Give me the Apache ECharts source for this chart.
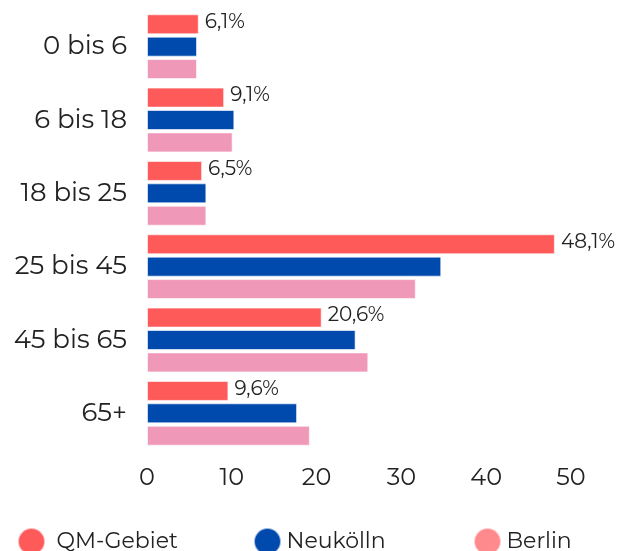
<!DOCTYPE html>
<html>
<head>
<meta charset="utf-8">
<script src="https://cdn.jsdelivr.net/npm/echarts@6/dist/echarts.min.js"></script>
<style>
  html, body { margin: 0; padding: 0; background: #fff; }
  #chart { width: 622px; height: 551px; }
</style>
</head>
<body>
<div id="chart"></div>
<script>
// Altersgruppen
var categories = ['0 bis 6', '6 bis 18', '18 bis 25', '25 bis 45', '45 bis 65', '65+']
var qmGebiet = [6.1, 9.1, 6.5, 48.1, 20.6, 9.6]
var neukoelln = [5.9, 10.3, 7.0, 34.7, 24.6, 17.7]
var berlin = [5.9, 10.1, 7.0, 31.7, 26.1, 19.2]
var seriesNames = ['QM-Gebiet', 'Neukölln', 'Berlin']
var legendColors = ['#ff5a5a', '#004aad', '#ff8a8e']

var chart = echarts.init(document.getElementById('chart'))
var font = 'Montserrat, "Open Sans", sans-serif'

// eine Legende pro Eintrag, damit die Abstände passen
var legendLeft = [12, 248, 468]
var legends = seriesNames.map(function (name, i) {
  return {
    top: 522,
    left: legendLeft[i],
    icon: 'circle',
    itemWidth: 28,
    itemHeight: 27,
    textStyle: { fontSize: 22, color: '#222', fontFamily: font, padding: [0, 0, 0, i === 0 ? 6 : 0] },
    data: [{ name: name, itemStyle: { color: legendColors[i] } }]
  }
})

var option = {
  animation: false,
  textStyle: { fontFamily: font },
  grid: { left: 147, right: 51, top: 10, bottom: 101, containLabel: false },
  legend: legends,
  xAxis: {
    type: 'value',
    min: 0,
    max: 50,
    interval: 10,
    axisLine: { show: false },
    axisTick: { show: false },
    splitLine: { show: false },
    axisLabel: { fontSize: 24, color: '#222', margin: 16 }
  },
  yAxis: {
    type: 'category',
    inverse: true,
    data: categories,
    axisLine: { show: false },
    axisTick: { show: false },
    axisLabel: { fontSize: 26, color: '#222', margin: 20 }
  },
  series: [
    {
      name: seriesNames[0],
      type: 'bar',
      data: qmGebiet,
      barWidth: 20,
      barGap: '12%',
      barCategoryGap: '14%',
      itemStyle: { color: '#ff5a5a', borderColor: 'rgba(255,255,255,0.6)', borderWidth: 1 },
      label: {
        show: true,
        position: 'right',
        distance: 6,
        fontSize: 20,
        color: '#222',
        offset: [0, -2],
        formatter: function (p) { return String(p.value).replace('.', ',') + '%' }
      }
    },
    {
      name: seriesNames[1],
      type: 'bar',
      data: neukoelln,
      barWidth: 20,
      barGap: '12%',
      itemStyle: { color: '#004aad', borderColor: 'rgba(255,255,255,0.6)', borderWidth: 1 }
    },
    {
      name: seriesNames[2],
      type: 'bar',
      data: berlin,
      barWidth: 20,
      barGap: '12%',
      itemStyle: { color: '#f098b8', borderColor: 'rgba(255,255,255,0.6)', borderWidth: 1 }
    }
  ]
}
chart.setOption(option)
</script>
</body>
</html>
